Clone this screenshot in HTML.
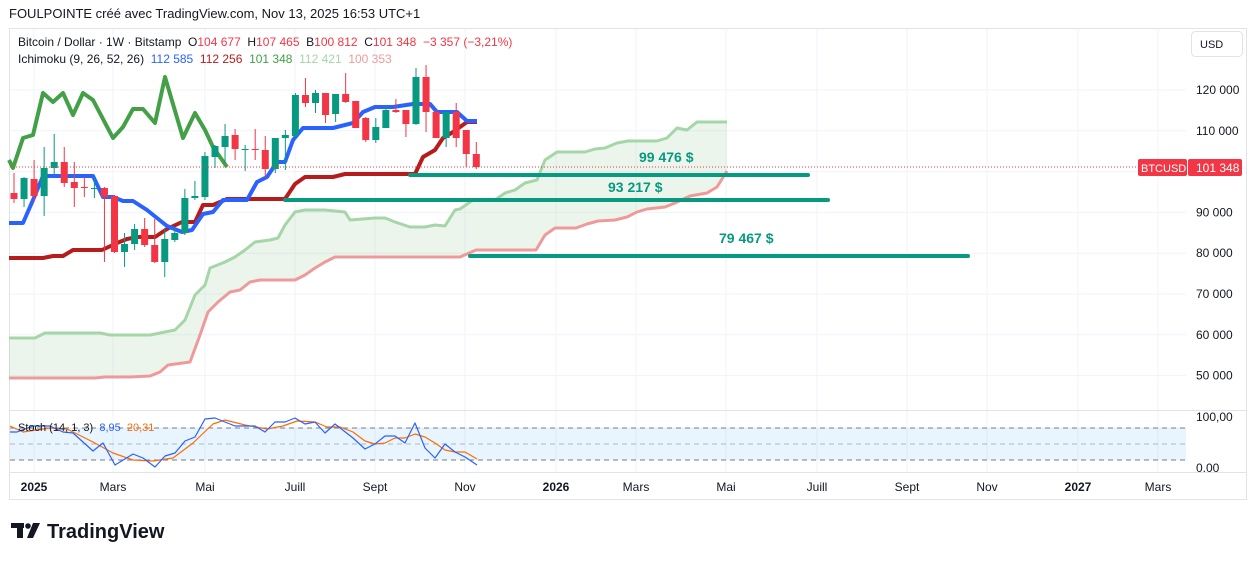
<!DOCTYPE html>
<html><head><meta charset="utf-8">
<style>
body{margin:0;background:#fff;width:1257px;height:561px;overflow:hidden;font-family:"Liberation Sans",sans-serif}
svg{display:block}
text{white-space:pre}
</style></head><body>
<svg id="s" width="1257" height="561" xmlns="http://www.w3.org/2000/svg" font-family="Liberation Sans, sans-serif" xml:space="preserve">
<rect x="0" y="0" width="1257" height="561" fill="#fff"/>
<text x="9" y="18" font-size="13" fill="#131722">FOULPOINTE créé avec TradingView.com, Nov 13, 2025 16:53 UTC+1</text>
<rect x="9.5" y="28.5" width="1237" height="471" fill="none" stroke="#e0e3eb"/>
<g id="grid" stroke="#f0f3fa" stroke-width="1"></g>
<rect x="10" y="428" width="1176" height="32" fill="#2196f3" fill-opacity="0.1"/>
<g stroke="#787b86" stroke-dasharray="5,4" stroke-width="1">
<line x1="10" y1="428" x2="1186" y2="428"/><line x1="10" y1="444" x2="1186" y2="444" stroke-opacity="0.5"/><line x1="10" y1="460" x2="1186" y2="460"/>
</g>
<line x1="10" y1="410.5" x2="1246" y2="410.5" stroke="#e0e3eb"/>
<line x1="10" y1="472.5" x2="1246" y2="472.5" stroke="#e0e3eb"/>
<g id="cloud"></g>
<g id="lines"></g>
<g id="candles"></g>
<line x1="10" y1="167" x2="1186" y2="167" stroke="#f23645" stroke-dasharray="1,2" stroke-width="1"/>
<g stroke="#089981" stroke-width="4" stroke-linecap="round">
<line x1="410" y1="175" x2="808" y2="175"/>
<line x1="285" y1="200" x2="828" y2="200"/>
<line x1="470" y1="256" x2="968" y2="256"/>
</g>
<g fill="#089981" font-size="14" font-weight="bold">
<text x="639" y="162">99 476 $</text>
<text x="608" y="192">93 217 $</text>
<text x="719" y="243">79 467 $</text>
</g>
<g id="stoch" fill="none"></g>
<text x="18" y="46" font-size="12" fill="#131722">Bitcoin / Dollar · 1W · Bitstamp  O<tspan fill="#f23645">104 677</tspan>  H<tspan fill="#f23645">107 465</tspan>  B<tspan fill="#f23645">100 812</tspan>  C<tspan fill="#f23645">101 348</tspan>  <tspan fill="#f23645">−3 357 (−3,21%)</tspan></text>
<text x="18" y="63" font-size="12" fill="#131722">Ichimoku (9, 26, 52, 26)  <tspan fill="#2962ff">112 585</tspan>  <tspan fill="#b71c1c">112 256</tspan>  <tspan fill="#43a047">101 348</tspan>  <tspan fill="#a5d6a7">112 421</tspan>  <tspan fill="#ef9a9a">100 353</tspan></text>
<text x="18" y="431" font-size="11" fill="#131722">Stoch (14, 1, 3)  <tspan fill="#2962ff">8,95</tspan>  <tspan fill="#ff6d00">20,31</tspan></text>
<rect x="1191.5" y="31.5" width="51" height="25" rx="4" fill="#fff" stroke="#e0e3eb"/>
<text x="1200" y="48" font-size="11" fill="#131722">USD</text>
<g font-size="12" fill="#131722" id="pax"></g>
<rect x="1138" y="159" width="49" height="17" rx="2" fill="#f23645"/>
<rect x="1188" y="159" width="54" height="17" rx="2" fill="#f23645"/>
<text x="1141" y="172" font-size="11" fill="#fff">BTCUSD</text>
<text x="1196" y="172" font-size="12" fill="#fff">101 348</text>
<text x="1196" y="421" font-size="12" fill="#131722">100,00</text>
<text x="1196" y="472" font-size="12" fill="#131722">0.00</text>
<g font-size="12" fill="#131722" id="tax"></g>
<g fill="#131722">
<rect x="11" y="523" width="13" height="5"/><rect x="17" y="523" width="6" height="15"/>
<circle cx="28" cy="526" r="2.8"/><polygon points="33,523 40,523 33,538 27,538"/>
</g>
<text x="47" y="538" font-size="20" font-weight="bold" fill="#131722">TradingView</text>
</svg>
<script>
var NS="http://www.w3.org/2000/svg";
function el(p,t,a){var e=document.createElementNS(NS,t);for(var k in a)e.setAttribute(k,a[k]);document.getElementById(p).appendChild(e);return e;}
var tx=[[34,"2025",1],[113,"Mars"],[205,"Mai"],[295,"Juill"],[375,"Sept"],[465,"Nov"],[556,"2026",1],[636,"Mars"],[726,"Mai"],[817,"Juill"],[907,"Sept"],[987,"Nov"],[1078,"2027",1],[1158,"Mars"]];
tx.forEach(function(t){el("grid","line",{x1:t[0],y1:29,x2:t[0],y2:472});
var e=el("tax","text",{x:t[0],y:491,"text-anchor":"middle"});e.textContent=t[1];if(t[2])e.setAttribute("font-weight","bold");});
for(var i=0;i<8;i++){var y=90+i*40.8;el("grid","line",{x1:10,y1:y,x2:1186,y2:y});
if(i!=2){var e=el("pax","text",{x:1196,y:y+4});e.textContent=(120-i*10)+" 000";}}
el("grid","line",{x1:10,y1:428,x2:1186,y2:428});
function pl(p,pts,col,w,op){el(p,"polyline",{points:pts,fill:"none",stroke:col,"stroke-width":w,"stroke-linejoin":"round","stroke-opacity":op||1});}
var A="9,338 35,338 45,333 100,333 110,335 150,335 175,330 185,320 195,295 205,285 210,268 225,262 235,257 245,250 255,242 270,240 278,238 285,225 295,212 305,210 325,210 345,212 350,220 375,218 385,218 395,222 410,227 425,227 435,225 445,226 455,210 460,209 473,200 495,200 505,193 515,190 525,183 537,180 545,160 557,152 585,152 595,149 605,148 617,143 628,141 657,141 667,138 677,128 687,130 697,122 727,122";
var B="9,378 95,378 105,377 130,377 150,376 160,372 168,365 190,362 200,335 208,312 218,302 230,292 240,290 250,282 260,280 295,280 305,275 315,268 325,262 335,257 460,257 476,250 536,250 545,235 555,228 576,228 587,224 598,221 615,220 627,217 637,212 647,209 665,207 675,203 690,196 707,193 717,187 727,171";
el("cloud","polygon",{points:A+" "+B.split(" ").reverse().join(" "),fill:"#43a047","fill-opacity":"0.1"});
pl("cloud",A,"#a5d6a7",3);pl("cloud",B,"#ef9a9a",3);
pl("lines","9,258 43,258 53,256 63,256 73,250 102,250 117,243 127,239 137,237 155,237 167,229 182,222 195,222 203,205 213,205 227,199 285,199 295,184 305,177 333,177 345,174 415,174 423,157 435,150 443,138 453,132 467,122 477,122","#b71c1c",4);
pl("lines","9,223 23,223 33,200 43,176 93,176 103,197 113,197 123,201 133,201 147,210 167,226 182,232 192,230 203,214 213,212 223,200 247,200 257,182 267,177 277,162 285,162 293,140 303,128 333,128 353,123 363,112 375,107 393,107 413,104 430,104 437,112 457,112 467,121 477,121","#2962ff",4);
pl("lines","9,160 13,168 23,138 33,135 43,93 53,102 63,93 73,115 83,93 93,100 113,138 123,127 133,109 143,109 155,123 165,77 183,138 195,113 205,130 213,147 227,167","#43a047",4);
var C=[[0,193,199,173,203],[1,178,199,177,207],[0,179,196,160,202],[1,168,196,147,216],[1,162,168,134,175],[0,162,183,147,187],[0,182,188,162,207],[0,187,188,177,197],[1,188,189,177,198],[0,188,197,187,262],[0,196,252,195,253],[1,244,252,233,267],[1,229,244,224,250],[0,229,245,218,247],[0,245,262,219,263],[1,239,262,228,277],[1,233,240,228,242],[1,198,233,189,235],[1,196,198,181,200],[1,156,197,152,200],[1,146,157,145,168],[1,136,147,124,163],[0,135,149,129,160],[1,149,150,145,171],[0,149,150,129,160],[0,150,169,136,178],[1,138,169,138,173],[1,135,138,130,170],[1,95,136,93,137],[0,95,103,78,107],[1,93,103,90,113],[0,93,115,93,123],[1,94,114,94,122],[0,94,102,73,103],[0,101,128,101,128],[0,118,140,117,142],[1,127,140,118,143],[1,110,128,105,128],[0,110,112,99,113],[0,110,124,110,137],[1,77,124,68,125],[0,77,112,65,132],[0,112,138,110,138],[1,112,138,112,147],[0,112,138,103,147],[0,130,154,130,167],[0,154,167,142,169]];
C.forEach(function(c,i){var x=14+i*10.05;var col=c[0]?"#089981":"#f23645";
el("candles","line",{x1:x,y1:c[3],x2:x,y2:c[4],stroke:col,"stroke-width":1});
el("candles","rect",{x:x-3.5,y:c[1],width:7,height:Math.max(1,c[2]-c[1]),fill:col});});
pl("stoch","10,426 23,432 50,428 67,429 93,442 113,453 133,460 153,461 173,458 193,443 213,424 225,420 245,425 267,429 283,426 297,421 315,422 327,427 340,427 353,432 365,441 375,444 385,443 395,438 405,438 415,434 425,437 435,443 445,450 455,452 465,452 477,459","#ff6d00",1.2);
pl("stoch","10,432 17,432 33,426 50,426 63,432 73,433 93,451 103,443 115,465 133,454 143,458 155,467 165,456 175,453 185,441 195,437 205,419 215,418 235,426 255,426 265,432 275,422 285,422 295,418 305,424 315,422 325,433 335,424 353,438 365,449 375,444 385,436 395,436 405,443 415,423 425,448 435,458 445,444 455,452 465,457 477,465","#2962ff",1.2);
</script>
</body></html>
